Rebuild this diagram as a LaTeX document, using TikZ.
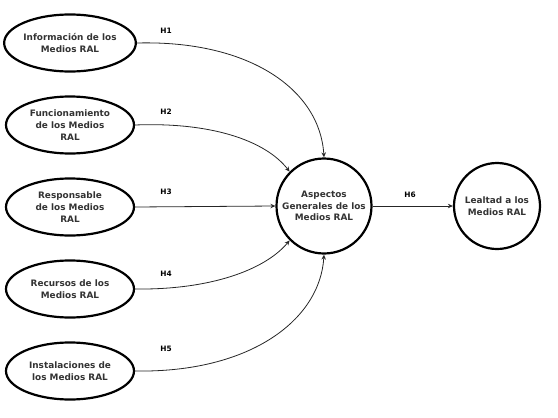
\documentclass[tikz,border=0pt]{standalone}
\usepackage{fontspec}
\setmainfont{DejaVu Sans}
\usetikzlibrary{shapes.geometric,arrows.meta}
\definecolor{txt}{HTML}{333333}
\begin{document}
\begin{tikzpicture}[x=1pt,y=-1pt,
  ell/.style={ellipse,draw=black,line width=2.2pt,minimum width=128pt,minimum height=57pt,inner sep=0pt,align=center,font=\fontsize{8.9}{11.8}\selectfont\bfseries,text=txt},
  circ/.style={circle,draw=black,line width=2.2pt,inner sep=0pt,align=center,font=\fontsize{8.9}{11.8}\selectfont\bfseries,text=txt},
  conn/.style={draw=black!85,line width=0.8pt,-{Stealth[length=5pt,width=4.5pt,open,fill=white]}},
  hlab/.style={font=\fontsize{7.4}{9}\selectfont\bfseries,text=black}]
\useasboundingbox (0,0) rectangle (558,418);
\node[ell] (a) at (70,43) {Información de los\\Medios RAL};
\node[ell] (b) at (70,125) {Funcionamiento\\de los Medios\\RAL};
\node[ell] (c) at (70,207) {Responsable\\de los Medios\\RAL};
\node[ell] (d) at (70,289) {Recursos de los\\Medios RAL};
\node[ell] (e) at (70,371) {Instalaciones de\\los Medios RAL};
\node[circ,minimum size=95pt] (m) at (324,206) {Aspectos\\Generales de los\\Medios RAL};
\node[circ,minimum size=86pt] (l) at (497,206) {Lealtad a los\\Medios RAL};
\draw[conn] (a.east) .. controls (250,40) and (320,90) .. (m.north);
\draw[conn] (b.east) .. controls (210,122) and (265,140) .. (m.135);
\draw[conn] (c.east) -- (m.west);
\draw[conn] (d.east) .. controls (210,290) and (265,270) .. (m.225);
\draw[conn] (e.east) .. controls (250,373) and (320,320) .. (m.south);
\draw[conn] (m.east) -- (l.west);
\node[hlab] (h1) at (166,31) {H1};
\node[hlab] (h2) at (166,112) {H2};
\node[hlab] (h3) at (166,192) {H3};
\node[hlab] (h4) at (166,274) {H4};
\node[hlab] (h5) at (166,349) {H5};
\node[hlab] (h6) at (410,195) {H6};
\end{tikzpicture}
\end{document}
